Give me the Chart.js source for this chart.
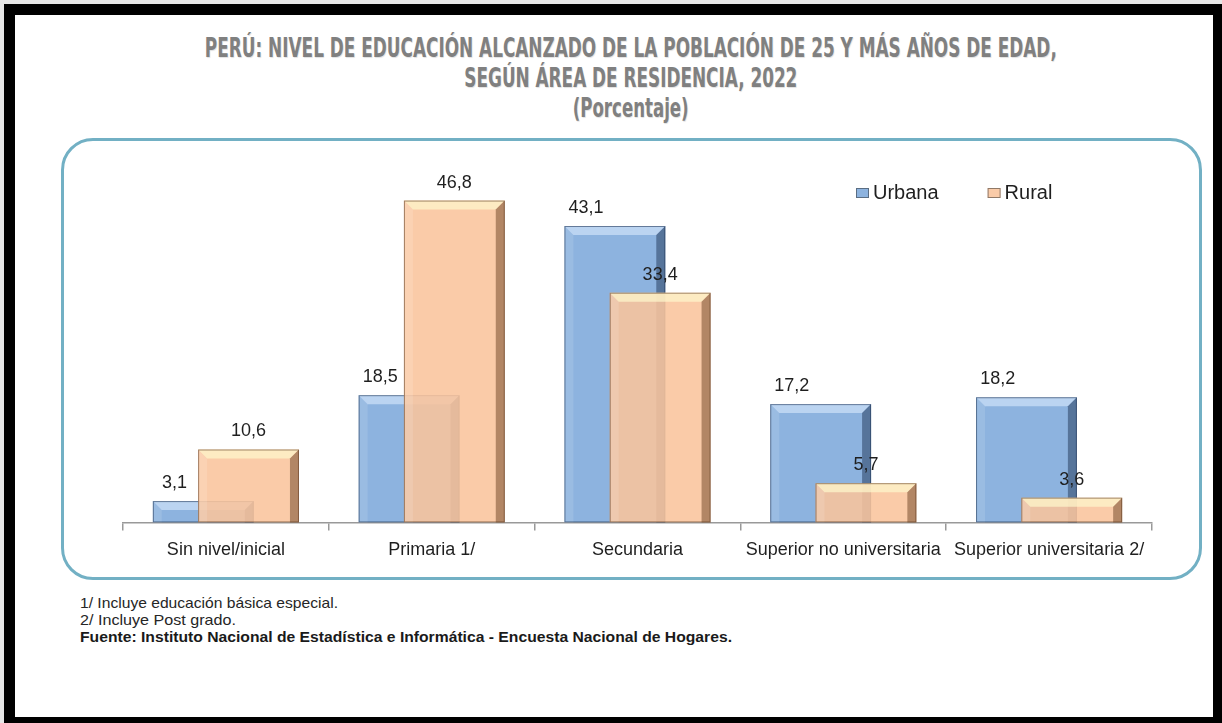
<!DOCTYPE html>
<html lang="es">
<head>
<meta charset="utf-8">
<title>Perú: nivel de educación alcanzado, 2022</title>
<script src="https://cdn.jsdelivr.net/npm/chart.js@4.4.1/dist/chart.umd.min.js"></script>
<style>
  html, body { margin: 0; padding: 0; }
  body {
    width: 1222px; height: 723px; position: relative; overflow: hidden;
    background: #000; font-family: "Liberation Sans", Arial, sans-serif;
  }
  #edgeTop { position: absolute; left: 0; top: 0; width: 1222px; height: 4px; background: #e6e6e6; }
  #edgeLeft { position: absolute; left: 0; top: 0; width: 4px; height: 723px; background: #e6e6e6; }
  #page { position: absolute; left: 15px; top: 15px; width: 1198px; height: 702px; background: #fff; }
  .tline {
    position: absolute; left: 0; width: 1262px; text-align: center;
    font-family: "Liberation Sans Narrow", "DejaVu Sans Condensed", "Liberation Sans", sans-serif;
    font-weight: bold; font-size: 26px; line-height: 26px; color: #808080; white-space: nowrap;
    text-shadow: 1px 1px 1px rgba(0,0,0,0.12);
  }
  .tline span, .note span { display: inline-block; }
  .tline span { transform-origin: center; }
  #box {
    position: absolute; left: 61px; top: 138px; width: 1141px; height: 442px;
    box-sizing: border-box; border: 3px solid #72b0c4; border-radius: 32px;
  }
  #chartWrap { position: absolute; left: 61px; top: 138px; width: 1141px; height: 442px; }
  .note {
    position: absolute; left: 80px; font-size: 15px; line-height: 17px; color: #262626; white-space: nowrap;
  }
  .note span { transform-origin: left center; }
  .note.src { font-weight: bold; color: #1a1a1a; }
</style>
</head>
<body>
<div id="edgeTop"></div>
<div id="edgeLeft"></div>
<div id="page"></div>

<div class="tline" style="top:35px"><span data-w="852">PERÚ: NIVEL DE EDUCACIÓN ALCANZADO DE LA POBLACIÓN DE 25 Y MÁS AÑOS DE EDAD,</span></div>
<div class="tline" style="top:65px"><span data-w="333">SEGÚN ÁREA DE RESIDENCIA, 2022</span></div>
<div class="tline" style="top:95px"><span data-w="116">(Porcentaje)</span></div>

<div id="box"></div>
<div id="chartWrap"><canvas id="eduChart" width="1141" height="442"></canvas></div>

<div class="note" style="top:594px"><span data-w="258">1/ Incluye educación básica especial.</span></div>
<div class="note" style="top:611px"><span data-w="156">2/ Incluye Post grado.</span></div>
<div class="note src" style="top:628px"><span data-w="652">Fuente: Instituto Nacional de Estadística e Informática - Encuesta Nacional de Hogares.</span></div>

<script>
const categories = ["Sin nivel/inicial", "Primaria 1/", "Secundaria", "Superior no universitaria", "Superior universitaria 2/"];
const seriesNames = ["Urbana", "Rural"];
const urbana = [3.1, 18.5, 43.1, 17.2, 18.2];
const rural = [10.6, 46.8, 33.4, 5.7, 3.6];

// stretch text lines to the widths measured on the reference
document.querySelectorAll("[data-w]").forEach(s => {
  const w = s.getBoundingClientRect().width;
  s.style.transform = `scaleX(${+s.dataset.w / w})`;
});

const fmt = v => v.toFixed(1).replace(".", ",");

// the bars overlap: move each series off the category centre
const shiftBars = {
  id: "shiftBars",
  afterDatasetsUpdate(chart) {
    const x = chart.scales.x;
    const step = x.getPixelForValue(1) - x.getPixelForValue(0);
    chart.getSortedVisibleDatasetMetas().forEach(meta => {
      const off = meta.index === 0 ? -0.11 * step : 0.11 * step;
      meta.data.forEach(el => { el.x += off; });
    });
  }
};

// bevelled look of the original bars
const bevel = {
  id: "bevel",
  afterDatasetDraw(chart, args) {
    const ctx = chart.ctx;
    const rur = args.index === 1;
    args.meta.data.forEach(el => {
      const l = el.x - el.width / 2, r = el.x + el.width / 2, t = el.y, btm = el.base;
      const b = Math.min(9, (btm - t) / 2.4);
      const poly = (pts, fill) => {
        ctx.beginPath();
        ctx.moveTo(pts[0][0], pts[0][1]);
        pts.slice(1).forEach(p => ctx.lineTo(p[0], p[1]));
        ctx.closePath();
        ctx.fillStyle = fill;
        ctx.fill();
      };
      ctx.save();
      poly([[l, t], [r, t], [r - b, t + b], [l + b, t + b]], rur ? "rgba(255,250,205,0.7)" : "rgba(225,238,255,0.55)");
      poly([[l, t], [l + b, t + b], [l + b, btm], [l, btm]], "rgba(255,255,255,0.12)");
      poly([[r, t], [r, btm], [r - b, btm], [r - b, t + b]], rur ? "rgba(90,50,20,0.45)" : "rgba(20,40,70,0.45)");
      ctx.strokeStyle = rur ? "rgba(90,55,30,0.55)" : "rgba(30,50,80,0.55)";
      ctx.lineWidth = 1;
      ctx.strokeRect(l + 0.5, t + 0.5, el.width - 1, btm - t - 1);
      ctx.restore();
    });
  }
};

const valueLabels = {
  id: "valueLabels",
  afterDatasetsDraw(chart) {
    const ctx = chart.ctx;
    const x = chart.scales.x;
    const step = x.getPixelForValue(1) - x.getPixelForValue(0);
    ctx.save();
    ctx.font = "18px 'Liberation Sans', Arial, sans-serif";
    ctx.fillStyle = "#1f1f1f";
    ctx.textAlign = "center";
    ctx.textBaseline = "middle";
    chart.getSortedVisibleDatasetMetas().forEach(meta => {
      const vals = chart.data.datasets[meta.index].data;
      meta.data.forEach((el, i) => {
        const dx = meta.index === 0 ? -0.14 * step : 0;
        ctx.fillText(fmt(vals[i]), el.x + dx, el.y - 18);
      });
    });
    ctx.restore();
  }
};

// legend in one row, top right of the plot
const rowLegend = {
  id: "rowLegend",
  afterDraw(chart) {
    const ctx = chart.ctx;
    const y = 193 - 138;
    let x = 856 - 61;
    ctx.save();
    ctx.font = "20px 'Liberation Sans', Arial, sans-serif";
    ctx.textBaseline = "middle";
    ctx.textAlign = "left";
    chart.data.datasets.forEach(ds => {
      ctx.fillStyle = ds.backgroundColor;
      ctx.fillRect(x, y - 5, 13, 10);
      ctx.strokeStyle = "rgba(40,40,40,0.5)";
      ctx.lineWidth = 1;
      ctx.strokeRect(x + 0.5, y - 4.5, 12, 9);
      ctx.fillStyle = "#1f1f1f";
      ctx.fillText(ds.label, x + 17, y);
      x += 17 + ctx.measureText(ds.label).width + 49;
    });
    ctx.restore();
  }
};

new Chart(document.getElementById("eduChart"), {
  type: "bar",
  data: {
    labels: categories,
    datasets: [
      { label: seriesNames[0], data: urbana, backgroundColor: "#8db3df", borderWidth: 0, order: 1 },
      { label: seriesNames[1], data: rural, backgroundColor: "rgba(249,196,156,0.88)", borderWidth: 0, order: 0 }
    ]
  },
  options: {
    responsive: false,
    animation: false,
    datasets: { bar: { grouped: false, barPercentage: 0.49, categoryPercentage: 1 } },
    layout: { padding: { left: 62, right: 50, top: 44, bottom: 10 } },
    scales: {
      x: {
        grid: { display: true, drawOnChartArea: false, offset: true, tickLength: 8, color: "#999", lineWidth: 1.5 },
        border: { display: true, color: "#999", width: 1.5 },
        ticks: { color: "#1f1f1f", padding: 9, font: { size: 18, family: "'Liberation Sans', Arial, sans-serif" } }
      },
      y: { display: false, min: 0, max: 49.5 }
    },
    plugins: {
      tooltip: { enabled: false },
      legend: { display: false }
    }
  },
  plugins: [shiftBars, bevel, valueLabels, rowLegend]
});
</script>
</body>
</html>
